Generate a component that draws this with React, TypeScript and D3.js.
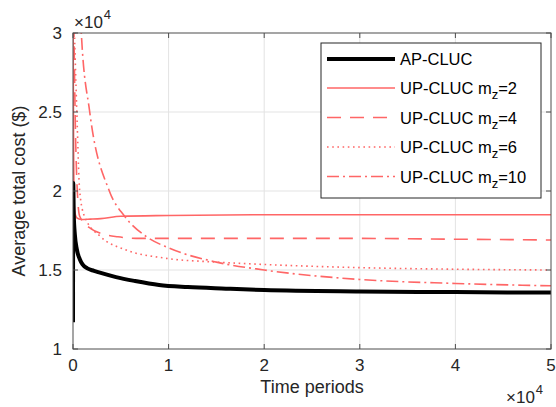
import React from "react";
import * as d3 from "d3";

// ---- data (cost values in units of 1e4 $, time in periods) ----
const apTime = [0, 25, 80, 200, 400, 700, 1000, 1500, 2200, 3000, 4500, 6500, 9000, 12000, 16000, 20000, 30000, 40000, 50000];
const apCost = [1.17, 2.05, 1.85, 1.72, 1.63, 1.57, 1.535, 1.51, 1.495, 1.48, 1.455, 1.43, 1.405, 1.392, 1.382, 1.373, 1.364, 1.36, 1.357];

const up2Time = [0, 60, 150, 400, 850, 1800, 2900, 5000, 10000, 20000, 30000, 40000, 50000];
const up2Cost = [3.2, 2.3, 1.88, 1.83, 1.82, 1.822, 1.825, 1.84, 1.845, 1.85, 1.85, 1.85, 1.85];

const up4Time = [0, 100, 250, 450, 700, 1900, 3000, 4700, 7000, 10000, 20000, 30000, 40000, 50000];
const up4Cost = [3.5, 3.0, 2.4, 2.0, 1.84, 1.76, 1.73, 1.71, 1.70, 1.70, 1.70, 1.70, 1.695, 1.69];

const up6Time = [0, 150, 400, 700, 1200, 2900, 5400, 9600, 15000, 20000, 30000, 40000, 50000];
const up6Cost = [3.3, 3.0, 2.5, 2.0, 1.84, 1.71, 1.63, 1.575, 1.55, 1.535, 1.515, 1.505, 1.50];

const up10Time = [0, 870, 1750, 3800, 5400, 7700, 10000, 15000, 20000, 30000, 40000, 50000];
const up10Cost = [4.5, 3.0, 2.5, 2.0, 1.84, 1.71, 1.64, 1.55, 1.50, 1.44, 1.415, 1.40];

const legendLabels = ["AP-CLUC", "UP-CLUC m", "UP-CLUC m", "UP-CLUC m", "UP-CLUC m"];
const legendSubs = ["", "z", "z", "z", "z"];
const legendSuffix = ["", "=2", "=4", "=6", "=10"];

const xTicks = [0, 10000, 20000, 30000, 40000, 50000];
const xTickLabels = ["0", "1", "2", "3", "4", "5"];
const yTicks = [1, 1.5, 2, 2.5, 3];
const yTickLabels = ["1", "1.5", "2", "2.5", "3"];

const RED = "#ff6666";
const FONT = "'Liberation Sans', Arial, Helvetica, sans-serif";

export default function App() {
  const W = 556, H = 407;
  const L = 73, R = 551, T = 33, B = 349;
  const x = d3.scaleLinear().domain([0, 50000]).range([L, R]);
  const y = d3.scaleLinear().domain([1, 3]).range([B, T]);
  const line = d3
    .line<[number, number]>()
    .x((d) => x(d[0]))
    .y((d) => y(d[1]))
    .curve(d3.curveMonotoneX);

  const zip = (t: number[], c: number[]) => t.map((v, i) => [v, c[i]] as [number, number]);

  const series = [
    { d: zip(apTime, apCost), color: "#000", w: 4, dash: "" },
    { d: zip(up2Time, up2Cost), color: RED, w: 1.6, dash: "" },
    { d: zip(up4Time, up4Cost), color: RED, w: 1.6, dash: "14,9" },
    { d: zip(up6Time, up6Cost), color: RED, w: 1.6, dash: "1.6,3.6" },
    { d: zip(up10Time, up10Cost), color: RED, w: 1.6, dash: "12,4,2,4" },
  ];

  const axisColor = "#4d4d4d";
  const tickLen = 5;
  const fs = 17;
  const lfs = 18;
  const legfs = 16.5;

  const legX = 321, legY = 43, legW = 220, legH = 155;
  const rowY = [59, 88, 117.5, 147, 176.5];

  return (
    <svg width={W} height={H} style={{ position: "absolute", left: 0, top: 0, background: "#fff" }} fontFamily={FONT}>
      <defs>
        <clipPath id="plotclip">
          <rect x={L} y={T} width={R - L} height={B - T} />
        </clipPath>
      </defs>
      <rect x={0} y={0} width={W} height={H} fill="#fff" />
      {/* grid */}
      {xTicks.slice(1, -1).map((t) => (
        <line key={"gx" + t} x1={x(t)} x2={x(t)} y1={T} y2={B} stroke="#e3e3e3" strokeWidth={1} />
      ))}
      {yTicks.slice(1, -1).map((t) => (
        <line key={"gy" + t} x1={L} x2={R} y1={y(t)} y2={y(t)} stroke="#e3e3e3" strokeWidth={1} />
      ))}
      {/* series */}
      <g clipPath="url(#plotclip)">
        {series
          .slice()
          .reverse()
          .map((s, i) => (
            <path
              key={i}
              d={line(s.d) || ""}
              fill="none"
              stroke={s.color}
              strokeWidth={s.w}
              strokeDasharray={s.dash || undefined}
              strokeLinejoin="round"
            />
          ))}
      </g>
      {/* axes box */}
      <rect x={L} y={T} width={R - L} height={B - T} fill="none" stroke={axisColor} strokeWidth={1} />
      {/* ticks */}
      {xTicks.map((t) => (
        <g key={"xt" + t}>
          <line x1={x(t)} x2={x(t)} y1={B} y2={B - tickLen} stroke={axisColor} />
          <line x1={x(t)} x2={x(t)} y1={T} y2={T + tickLen} stroke={axisColor} />
        </g>
      ))}
      {yTicks.map((t) => (
        <g key={"yt" + t}>
          <line x1={L} x2={L + tickLen} y1={y(t)} y2={y(t)} stroke={axisColor} />
          <line x1={R} x2={R - tickLen} y1={y(t)} y2={y(t)} stroke={axisColor} />
        </g>
      ))}
      {/* tick labels */}
      {xTicks.map((t, i) => (
        <text key={"xl" + t} x={x(t)} y={371} textAnchor="middle" fontSize={fs} fill="#262626">
          {xTickLabels[i]}
        </text>
      ))}
      {yTicks.map((t, i) => (
        <text key={"yl" + t} x={L - 11} y={y(t) + 6} textAnchor="end" fontSize={fs} fill="#262626">
          {yTickLabels[i]}
        </text>
      ))}
      {/* exponent labels */}
      <text x={74} y={28} fontSize={fs} fill="#262626">
        ×10
        <tspan dx={1} dy={-9} fontSize={13}>4</tspan>
      </text>
      <text x={506} y={403} fontSize={fs} fill="#262626">
        ×10
        <tspan dx={1} dy={-9} fontSize={13}>4</tspan>
      </text>
      {/* axis titles */}
      <text x={(L + R) / 2} y={393} textAnchor="middle" fontSize={lfs} fill="#262626">
        Time periods
      </text>
      <text
        transform={`translate(25, ${(T + B) / 2}) rotate(-90)`}
        textAnchor="middle"
        fontSize={lfs}
        fill="#262626"
      >
        Average total cost ($)
      </text>
      {/* legend */}
      <rect x={legX} y={legY} width={legW} height={legH} fill="#fff" stroke="#262626" strokeWidth={1} />
      {series.map((s, i) => (
        <g key={"lg" + i}>
          <line
            x1={327}
            x2={395}
            y1={rowY[i]}
            y2={rowY[i]}
            stroke={s.color}
            strokeWidth={s.w}
            strokeDasharray={s.dash || undefined}
          />
          <text x={400} y={rowY[i] + 6} fontSize={legfs} fill="#000">
            {legendLabels[i]}
            {legendSubs[i] && (
              <tspan dy={5} fontSize={13}>
                {legendSubs[i]}
              </tspan>
            )}
            {legendSuffix[i] && <tspan dy={legendSubs[i] ? -5 : 0}>{legendSuffix[i]}</tspan>}
          </text>
        </g>
      ))}
    </svg>
  );
}
